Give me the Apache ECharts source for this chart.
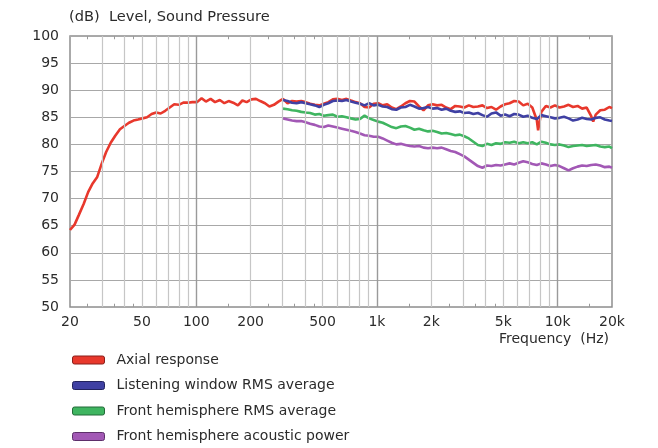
<!DOCTYPE html>
<html>
<head>
<meta charset="utf-8">
<script src="https://cdn.jsdelivr.net/npm/echarts@6/dist/echarts.min.js"></script>
<style>
html,body{margin:0;padding:0;background:#fff;}
#chart{width:658px;height:448px;}
</style>
</head>
<body>
<div id="chart"></div>
<script>
// ---- Data (frequency in Hz, level in dB) ----
const freqAxial = [20,21.2,22.4,23.8,25.2,26.7,28.3,30,31.7,33.6,35.6,37.8,40,42.4,44.9,47.6,50.4,53.4,56.6,60,63.5,67.3,71.3,75.5,80,84.8,89.8,95.1,101,107,113,120,127,135,143,151,160,170,180,190,202,214,226,240,254,269,285,302,320,339,359,381,403,427,453,480,508,538,570,604,640,678,718,761,806,854,905,959,1016,1076,1140,1208,1280,1356,1437,1522,1613,1709,1810,1918,2032,2153,2281,2416,2560,2712,2874,3044,3225,3417,3620,3836,4064,4305,4561,4833,5120,5424,5747,6089,6451,6834,7241,7671,7800,8127,8611,9123,9665,10240,10849,11494,12177,12902,13669,14482,15343,15740,16255,17222,18246,19331,20000];
const axial = [64.2,65.2,67.0,69.0,71.2,72.8,74.0,76.5,78.6,80.3,81.6,82.8,83.4,84.0,84.4,84.6,84.8,85.0,85.6,85.9,85.7,86.2,86.8,87.4,87.3,87.7,87.7,87.8,87.8,88.5,87.9,88.4,87.8,88.2,87.6,88.0,87.7,87.2,88.1,87.8,88.3,88.4,88.0,87.6,87.0,87.3,87.9,88.4,87.6,88.0,87.9,88.0,87.8,87.5,87.3,87.2,87.5,87.8,88.3,88.4,88.2,88.4,88.1,87.8,87.6,86.9,86.8,87.5,87.6,87.2,87.4,86.8,86.5,87.0,87.6,88.0,87.9,87.0,86.3,87.2,87.4,87.2,87.3,86.8,86.5,87.1,87.0,86.8,87.2,86.9,87.0,87.2,86.7,86.9,86.4,87.0,87.4,87.6,88.0,87.9,87.2,87.5,86.8,84.5,82.6,86.0,87.1,86.8,87.2,86.8,87.0,87.3,86.9,87.1,86.6,86.8,85.2,84.2,85.5,86.3,86.4,86.9,86.7];

const freqRoom = [302,320,339,359,381,403,427,453,480,508,538,570,604,640,678,718,761,806,854,905,959,1016,1076,1140,1208,1280,1356,1437,1522,1613,1709,1810,1918,2032,2153,2281,2416,2560,2712,2874,3044,3225,3417,3620,3836,4064,4305,4561,4833,5120,5424,5747,6089,6451,6834,7241,7671,8127,8611,9123,9665,10240,10849,11494,12177,12902,13669,14482,15343,16255,17222,18246,19331,20000];
const listening = [88.2,88.0,87.7,87.6,87.8,87.6,87.4,87.2,86.9,87.3,87.6,88.0,88.1,88.0,88.2,87.9,87.7,87.5,87.2,87.6,87.2,87.3,87.0,86.9,86.5,86.4,86.8,86.9,87.3,87.0,86.6,86.7,86.9,86.6,86.7,86.4,86.6,86.2,86.0,86.1,85.8,85.9,85.6,85.8,85.4,85.1,85.7,85.9,85.3,85.5,85.2,85.6,85.5,85.1,85.3,84.9,84.7,85.4,85.2,85.0,84.8,84.9,85.1,84.8,84.4,84.6,84.9,84.7,84.6,84.9,85.0,84.6,84.4,84.3];
const frontRms = [86.6,86.5,86.3,86.2,86.0,85.9,85.8,85.5,85.6,85.3,85.4,85.5,85.1,85.2,85.0,84.8,84.6,84.7,85.3,84.8,84.5,84.2,84.0,83.6,83.2,83.0,83.3,83.4,83.1,82.7,82.9,82.6,82.4,82.5,82.3,82.0,82.1,81.9,81.7,81.8,81.5,81.1,80.5,79.9,79.7,80.1,79.9,80.2,80.1,80.4,80.3,80.5,80.2,80.4,80.2,80.4,80.0,80.5,80.3,80.0,79.9,80.0,79.8,79.5,79.7,79.8,79.9,79.7,79.8,79.9,79.6,79.5,79.6,79.3];
const acousticPower = [84.8,84.6,84.4,84.3,84.3,84.1,83.8,83.6,83.3,83.2,83.5,83.3,83.1,82.9,82.7,82.5,82.3,82.0,81.7,81.6,81.4,81.4,81.1,80.7,80.3,80.0,80.1,79.9,79.7,79.6,79.7,79.4,79.3,79.4,79.3,79.4,79.1,78.8,78.6,78.2,77.8,77.2,76.6,76.0,75.7,76.1,76.0,76.2,76.1,76.3,76.5,76.3,76.6,76.9,76.7,76.4,76.2,76.5,76.3,76.0,76.2,76.0,75.6,75.2,75.6,75.9,76.1,76.0,76.2,76.3,76.1,75.8,75.9,75.7];

const seriesNames = ['Axial response','Listening window RMS average','Front hemisphere RMS average','Front hemisphere acoustic power'];
const xTickValues = [20,50,100,200,500,1000,2000,5000,10000,20000];
const xTickLabels = ['20','50','100','200','500','1k','2k','5k','10k','20k'];
const minorGrid = [30,40,50,60,70,80,90,200,300,400,500,600,700,800,900,2000,3000,4000,5000,6000,7000,8000,9000];
const majorGrid = [100,1000,10000];
const halfTicks = [25,35,45,150,250,350,450,1500,2500,3500,4500,15000];

// ---- Styles ----
const colors = ['#e8382c','#3f40a3','#3fb560','#a258b5'];
const borders = ['#8a1f1a','#22235e','#226a38','#5d2f6a'];
const FONT = 'DejaVu Sans';
const TXT = '#2b2b2b';

function pairs(xs, ys){ return xs.map((x,i)=>[x, ys[i]]); }

const gridLines = [];
minorGrid.forEach(v => gridLines.push({xAxis: v, lineStyle:{color:'#c6c6c6', width:1.2, type:'solid'}}));
majorGrid.forEach(v => gridLines.push({xAxis: v, lineStyle:{color:'#9a9a9a', width:1.4, type:'solid'}}));
halfTicks.forEach(v => {
  gridLines.push([{coord:[v,50], lineStyle:{color:'#9a9a9a', width:1, type:'solid'}},{coord:[v,50.6]}]);
  gridLines.push([{coord:[v,99.4], lineStyle:{color:'#9a9a9a', width:1, type:'solid'}},{coord:[v,100]}]);
});

const chart = echarts.init(document.getElementById('chart'), null, {renderer:'canvas'});
chart.setOption({
  animation: false,
  backgroundColor: '#ffffff',
  textStyle: {fontFamily: FONT},
  title: [
    {text: '(dB)  Level, Sound Pressure', left: 64, top: 5,
     textStyle:{fontFamily: FONT, fontSize: 14.6, fontWeight:'normal', color: TXT}},
    {text: 'Frequency  (Hz)', right: 44, top: 327,
     textStyle:{fontFamily: FONT, fontSize: 14, fontWeight:'normal', color: TXT}}
  ],
  grid: {left: 70, right: 46, top: 36, bottom: 141, show: true, borderColor: '#8e8e8e', borderWidth: 1.5, containLabel: false},
  xAxis: {
    type: 'log', logBase: 10, min: 20, max: 20000,
    axisLine: {show: false},
    axisTick: {show: false},
    splitLine: {show: false},
    minorSplitLine: {show: false},
    axisLabel: {
      customValues: xTickValues,
      formatter: v => { const i = xTickValues.findIndex(t => Math.abs(t - v) / t < 1e-6); return i >= 0 ? xTickLabels[i] : ''; },
      fontFamily: FONT, fontSize: 14, color: TXT, margin: 8,
      showMinLabel: true, showMaxLabel: true
    }
  },
  yAxis: {
    type: 'value', min: 50, max: 100, interval: 5,
    axisLine: {show: false},
    axisTick: {show: false},
    splitLine: {show: true, lineStyle: {color: '#a8a8a8', width: 1.2}},
    axisLabel: {fontFamily: FONT, fontSize: 14, color: TXT, margin: 11}
  },
  legend: {
    orient: 'vertical', left: 72, top: 352, padding: 0,
    itemWidth: 32, itemHeight: 8, itemGap: 9.5,
    icon: 'roundRect',
    textStyle: {fontFamily: FONT, fontSize: 14, color: TXT, lineHeight: 16, padding: [0,0,0,7]},
    data: seriesNames.map((n,i) => ({name: n, icon: 'roundRect', itemStyle: {color: colors[i], borderColor: borders[i], borderWidth: 1}}))
  },
  series: [
    {name: 'grid', type: 'line', data: [], z: 1, silent: true,
     markLine: {silent: true, symbol: ['none','none'], label: {show: false}, animation: false, data: gridLines}},
    {name: seriesNames[0], type: 'line', data: pairs(freqAxial, axial), showSymbol: false, symbol: 'none', smooth: false, z: 3,
     lineStyle: {color: colors[0], width: 2.6}, itemStyle: {color: colors[0]}},
    {name: seriesNames[1], type: 'line', data: pairs(freqRoom, listening), showSymbol: false, symbol: 'none', z: 4,
     lineStyle: {color: colors[1], width: 2.6}, itemStyle: {color: colors[1]}},
    {name: seriesNames[2], type: 'line', data: pairs(freqRoom, frontRms), showSymbol: false, symbol: 'none', z: 3,
     lineStyle: {color: colors[2], width: 2.6}, itemStyle: {color: colors[2]}},
    {name: seriesNames[3], type: 'line', data: pairs(freqRoom, acousticPower), showSymbol: false, symbol: 'none', z: 3,
     lineStyle: {color: colors[3], width: 2.6}, itemStyle: {color: colors[3]}}
  ]
});
</script>
</body>
</html>
